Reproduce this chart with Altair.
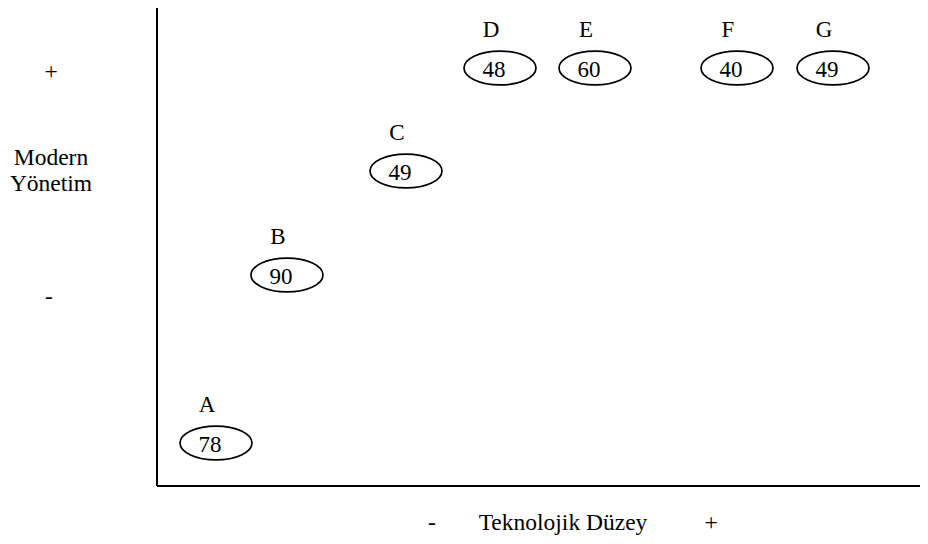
import altair as alt
import pandas as pd

# Firms (letters), their values, position on technology level (x) and modern management (y)
letters = ["A", "B", "C", "D", "E", "F", "G"]
values = [78, 90, 49, 48, 60, 40, 49]
tech_level = [59, 130, 249, 343, 438, 580, 676]
mgmt_level = [43, 211, 315, 418, 418, 418, 418]

# Axis annotation texts and their positions along the axes
y_texts = ["+", "Modern", "Yönetim", "-"]
y_text_x = [-106, -106, -106, -108]
y_text_y = [414, 328, 302, 189]
x_texts = ["-", "Teknolojik Düzey", "+"]
x_text_x = [275, 406, 554]
x_text_y = [-37, -37, -37]

# axis lines extents
x_axis_end = 775
y_axis_end = 478

FONT = "Liberation Serif"
XS = alt.Scale(domain=[-149, 763], nice=False, zero=False)
YS = alt.Scale(domain=[-50, 478], nice=False, zero=False)

df = pd.DataFrame({"letter": letters, "value": values, "x": tech_level, "y": mgmt_level})
df_y = pd.DataFrame({"t": y_texts, "x": y_text_x, "y": y_text_y})
df_x = pd.DataFrame({"t": x_texts, "x": x_text_x, "y": x_text_y})
df_axes = pd.DataFrame({"x": [0, 0], "x2": [x_axis_end, 0], "y": [0, 0], "y2": [0, y_axis_end]})

base = alt.Chart(df)

ellipse_path = "M -1 0 A 1 0.47 0 1 1 1 0 A 1 0.47 0 1 1 -1 0 Z"

ellipses = base.mark_point(
    shape=ellipse_path, size=5184, filled=False, stroke="black",
    strokeWidth=1.7, opacity=1
).encode(
    x=alt.X("x:Q", scale=XS, axis=None),
    y=alt.Y("y:Q", scale=YS, axis=None),
)

nums = base.mark_text(font=FONT, fontSize=23, color="black", dx=-6, dy=2).encode(
    x=alt.X("x:Q", scale=XS, axis=None),
    y=alt.Y("y:Q", scale=YS, axis=None),
    text="value:N",
)

labs = base.mark_text(font=FONT, fontSize=23, color="black", dx=-9, dy=-38).encode(
    x=alt.X("x:Q", scale=XS, axis=None),
    y=alt.Y("y:Q", scale=YS, axis=None),
    text="letter:N",
)

axes = alt.Chart(df_axes).mark_rule(color="black", strokeWidth=2).encode(
    x=alt.X("x:Q", scale=XS, axis=None),
    x2="x2:Q",
    y=alt.Y("y:Q", scale=YS, axis=None),
    y2="y2:Q",
)

ytxt = alt.Chart(df_y).mark_text(font=FONT, fontSize=23.5, color="black").encode(
    x=alt.X("x:Q", scale=XS, axis=None),
    y=alt.Y("y:Q", scale=YS, axis=None),
    text="t:N",
)

xtxt = alt.Chart(df_x).mark_text(font=FONT, fontSize=23.5, color="black").encode(
    x=alt.X("x:Q", scale=XS, axis=None),
    y=alt.Y("y:Q", scale=YS, axis=None),
    text="t:N",
)

chart = alt.layer(axes, ellipses, nums, labs, ytxt, xtxt).properties(
    width=912, height=528, padding=0,
    autosize=alt.AutoSizeParams(type="none"),
    background="white",
).configure_view(stroke=None)

chart.save("out.html", embed_options={"renderer": "svg", "actions": False})
